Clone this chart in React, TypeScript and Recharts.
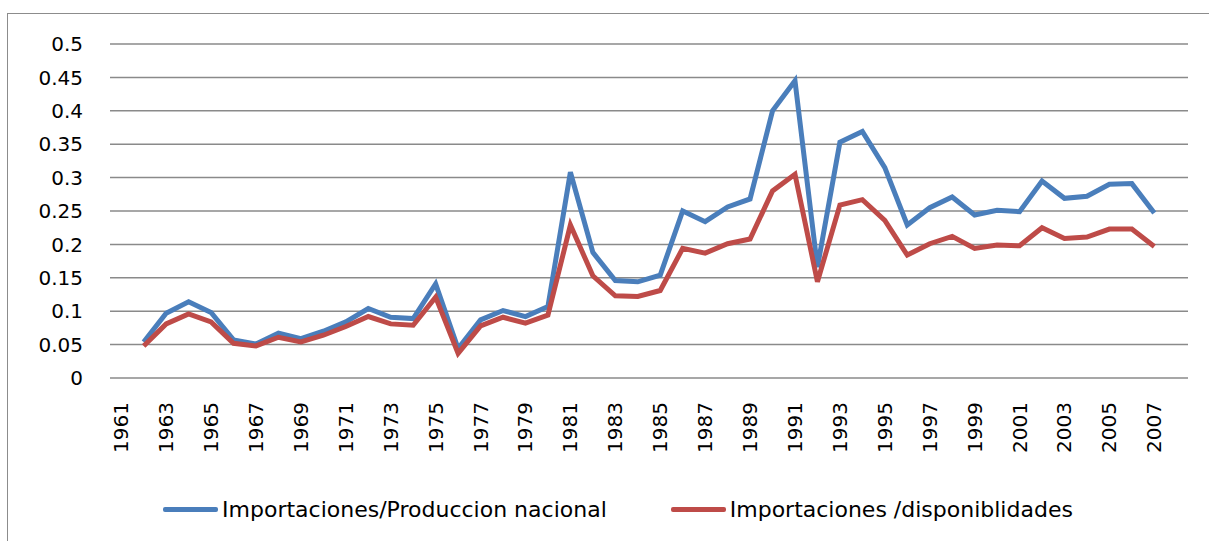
import { LineChart, Line, XAxis, YAxis, CartesianGrid, Legend } from 'recharts'

const years = [
  1961, 1962, 1963, 1964, 1965, 1966, 1967, 1968, 1969, 1970, 1971, 1972,
  1973, 1974, 1975, 1976, 1977, 1978, 1979, 1980, 1981, 1982, 1983, 1984,
  1985, 1986, 1987, 1988, 1989, 1990, 1991, 1992, 1993, 1994, 1995, 1996,
  1997, 1998, 1999, 2000, 2001, 2002, 2003, 2004, 2005, 2006, 2007, 2008,
]

// Importaciones / Produccion nacional
const produccion = [
  null, 0.054, 0.097, 0.114, 0.098, 0.057, 0.051, 0.067, 0.059, 0.070, 0.084, 0.104,
  0.091, 0.089, 0.141, 0.044, 0.087, 0.101, 0.092, 0.107, 0.308, 0.188, 0.146, 0.144,
  0.154, 0.250, 0.234, 0.256, 0.268, 0.400, 0.445, 0.166, 0.353, 0.369, 0.315, 0.229,
  0.255, 0.271, 0.244, 0.251, 0.249, 0.295, 0.269, 0.272, 0.290, 0.291, 0.247, null,
]

// Importaciones / disponibilidades
const disponibilidades = [
  null, 0.048, 0.081, 0.096, 0.084, 0.052, 0.048, 0.061, 0.054, 0.064, 0.077, 0.092,
  0.081, 0.079, 0.121, 0.037, 0.078, 0.091, 0.082, 0.094, 0.229, 0.153, 0.123, 0.122,
  0.131, 0.194, 0.187, 0.201, 0.208, 0.280, 0.305, 0.144, 0.259, 0.267, 0.236, 0.184,
  0.201, 0.212, 0.194, 0.199, 0.198, 0.225, 0.209, 0.211, 0.223, 0.223, 0.197, null,
]

const yTicks = [0, 0.05, 0.1, 0.15, 0.2, 0.25, 0.3, 0.35, 0.4, 0.45, 0.5]

const seriesNames = ['Importaciones/Produccion nacional', 'Importaciones /disponiblidades']
const colors = ['#4A7EBB', '#BE4B48']

const data = years.map((y, i) => ({
  year: String(y),
  a: produccion[i],
  b: disponibilidades[i],
}))

const FONT = '"DejaVu Sans", sans-serif'

function YearTick(props: any) {
  const { x, y, payload } = props
  return (
    <text
      x={x}
      y={y + 24}
      transform={`rotate(-90, ${x}, ${y + 24})`}
      textAnchor="end"
      dominantBaseline="central"
      fontFamily={FONT}
      fontSize={20}
      fill="#000"
    >
      {payload.value}
    </text>
  )
}

function ChartLegend() {
  return (
    <div style={{ display: 'flex', justifyContent: 'center', alignItems: 'center', height: 40, paddingLeft: 40 }}>
      {seriesNames.map((name, i) => (
        <div key={name} style={{ display: 'flex', alignItems: 'center', marginRight: i === 0 ? 64 : 0 }}>
          <div style={{ width: 55, height: 5, background: colors[i], borderRadius: 2, marginRight: 4 }} />
          <span style={{ fontFamily: FONT, fontSize: 22, color: '#000' }}>{name}</span>
        </div>
      ))}
    </div>
  )
}

export default function App() {
  return (
    <div style={{ position: 'fixed', left: 0, top: 0, width: 1209, height: 541, overflow: 'hidden', background: '#fff' }}>
      <div
        style={{
          position: 'absolute',
          left: 7,
          top: 13,
          width: 1400,
          height: 800,
          borderLeft: '1.5px solid #8c8c8c',
          borderTop: '1.5px solid #8c8c8c',
        }}
      />
      <div style={{ position: 'absolute', left: 8, top: 8 }}>
        <LineChart width={1201} height={533} data={data} margin={{ top: 36, right: 21, left: 0, bottom: 12 }}>
          <CartesianGrid vertical={false} stroke="#8a8a8a" strokeWidth={1.5} />
          <XAxis
            dataKey="year"
            scale="band"
            interval={1}
            axisLine={false}
            tickLine={false}
            tickSize={0}
            tickMargin={0}
            height={111}
            tick={<YearTick />}
          />
          <YAxis
            domain={[0, 0.5]}
            ticks={yTicks}
            width={102}
            axisLine={false}
            tickLine={false}
            tickSize={0}
            tickMargin={27}
            tick={{ fontFamily: FONT, fontSize: 20, fill: '#000' }}
          />
          <Legend verticalAlign="bottom" height={40} content={<ChartLegend />} />
          <Line
            dataKey="a"
            name={seriesNames[0]}
            stroke={colors[0]}
            strokeWidth={5}
            dot={false}
            isAnimationActive={false}
          />
          <Line
            dataKey="b"
            name={seriesNames[1]}
            stroke={colors[1]}
            strokeWidth={5}
            dot={false}
            isAnimationActive={false}
          />
        </LineChart>
      </div>
    </div>
  )
}
